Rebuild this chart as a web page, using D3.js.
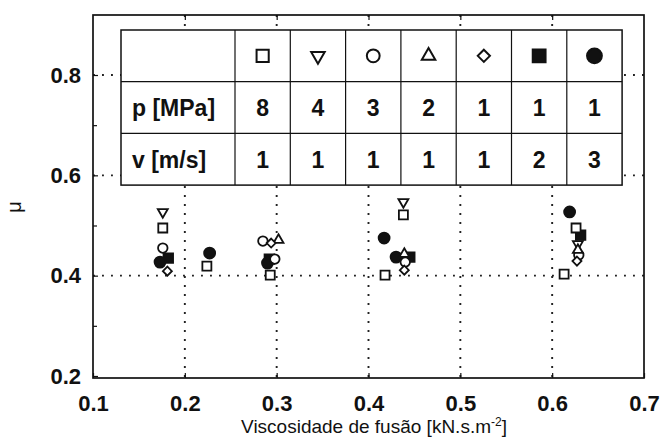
<!DOCTYPE html>
<html>
<head>
<meta charset="utf-8">
<script src="https://cdn.jsdelivr.net/npm/d3@7"></script>
<style>
  body { margin: 0; background: #fff; }
  text { font-family: "Liberation Sans", Arial, sans-serif; fill: #111; }
</style>
</head>
<body>
<svg id="chart" width="667" height="437"></svg>
<script>
// ---- data -------------------------------------------------------------
const markerNames = ["square", "triangleDown", "circle", "triangleUp", "diamond", "squareFilled", "circleFilled"];
const pressureMPa = ["8", "4", "3", "2", "1", "1", "1"];
const speedMs = ["1", "1", "1", "1", "1", "2", "3"];

const xTickValues = [0.1, 0.2, 0.3, 0.4, 0.5, 0.6, 0.7];
const yTickValues = [0.2, 0.4, 0.6, 0.8];
const yMinorTicks = [0.3, 0.5, 0.7];
const xGridValues = [0.2, 0.3, 0.4, 0.5, 0.6];
const yGridValues = [0.4, 0.6, 0.8];

// friction coefficient μ against melt viscosity, one array per marker: [viscosity, μ]
const muSquare       = [[0.176, 0.495], [0.224, 0.419], [0.293, 0.401], [0.418, 0.401], [0.438, 0.521], [0.626, 0.495], [0.613, 0.403]];
const muTriangleDown = [[0.176, 0.527], [0.438, 0.547], [0.628, 0.463]];
const muCircle       = [[0.176, 0.455], [0.285, 0.469], [0.298, 0.433], [0.440, 0.427], [0.629, 0.441]];
const muTriangleUp   = [[0.302, 0.471], [0.439, 0.443], [0.628, 0.451]];
const muDiamond      = [[0.181, 0.409], [0.294, 0.465], [0.439, 0.411], [0.627, 0.429]];
const muSquareFilled = [[0.182, 0.435], [0.292, 0.433], [0.445, 0.437], [0.631, 0.481]];
const muCircleFilled = [[0.173, 0.427], [0.227, 0.445], [0.290, 0.425], [0.417, 0.475], [0.430, 0.437], [0.619, 0.527]];

// ---- marker styles ----------------------------------------------------
const markerStyle = {
  square:       { type: d3.symbolSquare,   side: 9,    filled: false, rotate: 0 },
  triangleDown: { type: d3.symbolTriangle, side: 10,   filled: false, rotate: 180 },
  circle:       { type: d3.symbolCircle,   side: 9.5,  filled: false, rotate: 0 },
  triangleUp:   { type: d3.symbolTriangle, side: 10,   filled: false, rotate: 0 },
  diamond:      { type: d3.symbolDiamond2, side: 9,    filled: false, rotate: 0 },
  squareFilled: { type: d3.symbolSquare,   side: 9.5,  filled: true,  rotate: 0 },
  circleFilled: { type: d3.symbolCircle,   side: 11,   filled: true,  rotate: 0 }
};

function symbolArea(style, k) {
  const s = style.side * k;
  if (style.type === d3.symbolCircle) return Math.PI * s * s / 4;
  if (style.type === d3.symbolTriangle) return Math.sqrt(3) / 4 * s * s;
  if (style.type === d3.symbolDiamond2) return Math.pow(s / 2 / 0.62625, 2);
  return s * s;
}
function markerPath(name, k) {
  const st = markerStyle[name];
  return d3.symbol().type(st.type).size(symbolArea(st, k))();
}

// filled markers first so the open ones sit on top of them
const series = [
  { name: "squareFilled", points: muSquareFilled },
  { name: "circleFilled", points: muCircleFilled },
  { name: "square", points: muSquare },
  { name: "triangleDown", points: muTriangleDown },
  { name: "circle", points: muCircle },
  { name: "triangleUp", points: muTriangleUp },
  { name: "diamond", points: muDiamond }
];

// ---- layout -------------------------------------------------------------
const svg = d3.select("#chart");
const frame = { left: 93, right: 644, top: 15, bottom: 378 };

const x = d3.scaleLinear().domain([0.1, 0.7]).range([frame.left, frame.right]);
const y = d3.scaleLinear().domain([0.196, 0.9196]).range([frame.bottom, frame.top]);

svg.append("rect").attr("width", 667).attr("height", 437).attr("fill", "#fff");

// dotted grid
const grid = svg.append("g")
  .attr("stroke", "#222").attr("stroke-width", 1.9)
  .attr("stroke-dasharray", "1.9,7.1");
grid.selectAll("line.v").data(xGridValues).join("line")
  .attr("class", "v")
  .attr("x1", d => x(d)).attr("x2", d => x(d))
  .attr("y1", frame.top).attr("y2", frame.bottom);
grid.selectAll("line.h").data(yGridValues).join("line")
  .attr("class", "h")
  .attr("x1", frame.left).attr("x2", frame.right)
  .attr("y1", d => y(d)).attr("y2", d => y(d));

// axes
const fmt = d3.format(".1f");
const xAxis = svg.append("g")
  .attr("transform", `translate(0,${frame.bottom})`)
  .call(d3.axisBottom(x).tickValues(xTickValues).tickFormat(fmt)
    .tickSizeInner(-5).tickSizeOuter(0).tickPadding(17));
const yAxis = svg.append("g")
  .attr("transform", `translate(${frame.left},0)`)
  .call(d3.axisLeft(y).tickValues(yTickValues).tickFormat(fmt)
    .tickSizeInner(-5).tickSizeOuter(0).tickPadding(12));
const yMinorAxis = svg.append("g")
  .attr("transform", `translate(${frame.left},0)`)
  .call(d3.axisLeft(y).tickValues(yMinorTicks).tickFormat("")
    .tickSizeInner(-4).tickSizeOuter(0));
const topAxis = svg.append("g")
  .attr("transform", `translate(0,${frame.top})`)
  .call(d3.axisTop(x).tickValues(xGridValues).tickFormat("")
    .tickSizeInner(-5).tickSizeOuter(0));

[xAxis, yAxis, yMinorAxis, topAxis].forEach(g => {
  g.select(".domain").remove();
  g.selectAll(".tick line").attr("stroke", "#111").attr("stroke-width", 1.2);
  g.selectAll("text")
    .attr("font-family", "Liberation Sans, Arial, sans-serif")
    .attr("font-size", 22).attr("font-weight", "bold").attr("fill", "#111");
});

// frame
svg.append("rect")
  .attr("x", frame.left).attr("y", frame.top)
  .attr("width", frame.right - frame.left).attr("height", frame.bottom - frame.top)
  .attr("fill", "none").attr("stroke", "#111").attr("stroke-width", 1.7);

// axis titles
const xTitle = svg.append("text")
  .attr("x", 374).attr("y", 433)
  .attr("text-anchor", "middle").attr("font-size", 19);
xTitle.append("tspan").text("Viscosidade de fusão [kN.s.m");
xTitle.append("tspan").attr("baseline-shift", "super").attr("font-size", 12).text("-2");
xTitle.append("tspan").text("]");

svg.append("text")
  .attr("transform", "translate(21,207) rotate(-90)")
  .attr("text-anchor", "middle").attr("font-size", 20)
  .text("μ");

// legend table
const table = { left: 121, top: 30, labelWidth: 114, cellWidth: 55.3, rowHeight: 51.7 };
const tg = svg.append("g");
const tableWidth = table.labelWidth + table.cellWidth * markerNames.length;
tg.append("rect")
  .attr("x", table.left).attr("y", table.top)
  .attr("width", tableWidth).attr("height", table.rowHeight * 3)
  .attr("fill", "#fff").attr("stroke", "#111").attr("stroke-width", 1.5);
[1, 2].forEach(r => tg.append("line")
  .attr("x1", table.left).attr("x2", table.left + tableWidth)
  .attr("y1", table.top + r * table.rowHeight).attr("y2", table.top + r * table.rowHeight)
  .attr("stroke", "#111").attr("stroke-width", 1.2));
d3.range(markerNames.length).forEach(c => tg.append("line")
  .attr("x1", table.left + table.labelWidth + c * table.cellWidth)
  .attr("x2", table.left + table.labelWidth + c * table.cellWidth)
  .attr("y1", table.top).attr("y2", table.top + table.rowHeight * 3)
  .attr("stroke", "#111").attr("stroke-width", 1.2));

const colX = i => table.left + table.labelWidth + (i + 0.5) * table.cellWidth;
const rowY = r => table.top + (r + 0.5) * table.rowHeight;

tg.selectAll("path.key").data(markerNames).join("path")
  .attr("class", "key")
  .attr("d", d => markerPath(d, 1.35))
  .attr("transform", (d, i) => `translate(${colX(i)},${rowY(0)}) rotate(${markerStyle[d].rotate})`)
  .attr("fill", d => markerStyle[d].filled ? "#111" : "#fff")
  .attr("stroke", "#111").attr("stroke-width", 2);

const rowLabels = ["p [MPa]", "v [m/s]"];
[pressureMPa, speedMs].forEach((vals, r) => {
  tg.append("text")
    .attr("x", table.left + 11).attr("y", rowY(r + 1)).attr("dy", "0.36em")
    .attr("font-size", 23).attr("font-weight", "bold")
    .text(rowLabels[r]);
  tg.selectAll(null).data(vals).join("text")
    .attr("x", (d, i) => colX(i)).attr("y", rowY(r + 1)).attr("dy", "0.36em")
    .attr("text-anchor", "middle").attr("font-size", 23).attr("font-weight", "bold")
    .text(d => d);
});

// data markers
const pts = svg.append("g");
series.forEach(s => {
  const st = markerStyle[s.name];
  pts.selectAll(null).data(s.points).join("path")
    .attr("d", markerPath(s.name, 1))
    .attr("transform", d => `translate(${x(d[0])},${y(d[1])}) rotate(${st.rotate})`)
    .attr("fill", st.filled ? "#111" : "#fff")
    .attr("stroke", "#111").attr("stroke-width", 1.8);
});
</script>
</body>
</html>
